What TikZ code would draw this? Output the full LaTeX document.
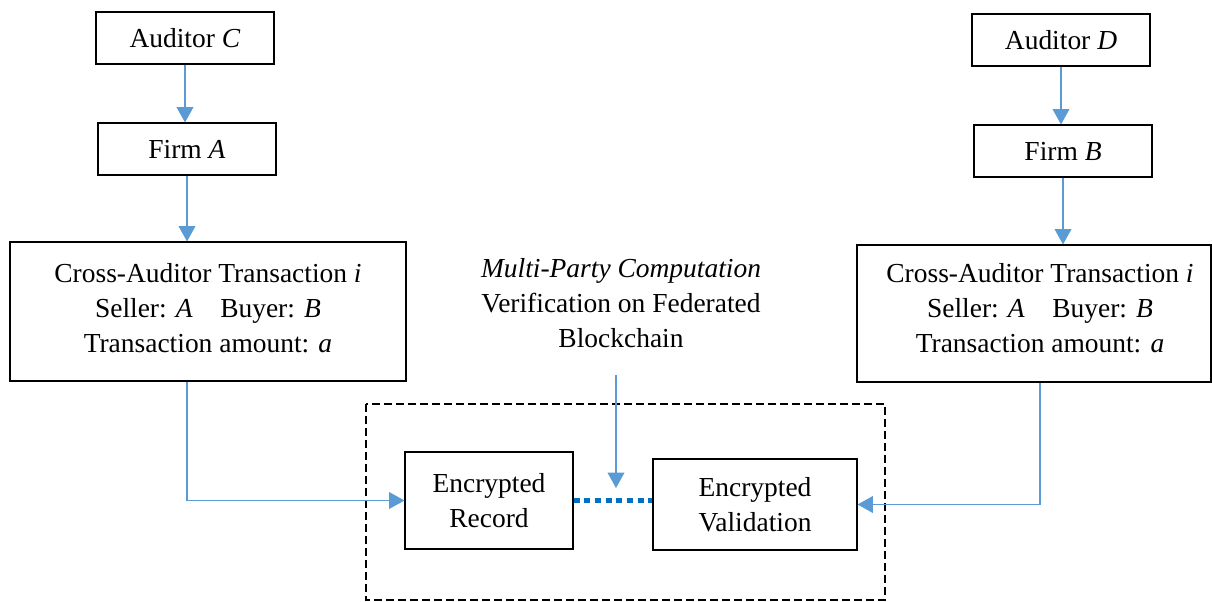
\documentclass[tikz,border=0pt]{standalone}
\usepackage{fontspec}
\setmainfont{Liberation Serif}
\usetikzlibrary{arrows.meta,calc}
\definecolor{linkblue}{RGB}{91,155,213}
\definecolor{dotblue}{RGB}{0,112,192}
\tikzset{
  box/.style={draw=black, line width=0.8pt, rectangle, inner sep=0pt, align=center,
              font=\fontsize{20.6}{26.25}\selectfont},
  arr/.style={draw=linkblue, line width=1.1pt,
              -{Triangle[length=11.5pt,width=12.5pt]}},
  link/.style={draw=dotblue, line width=3.4pt, dash pattern=on 4.6pt off 3.4pt},
  frame/.style={draw=black, line width=1.6pt, dash pattern=on 6pt off 3pt},
  caption/.style={align=center, inner sep=0pt, font=\fontsize{20.6}{26.25}\selectfont}
}
\begin{document}
\begin{tikzpicture}[x=0.75pt,y=-0.75pt]
  \useasboundingbox (0,0) rectangle (1212,602);

  % left column
  \node[box, minimum width=133.5pt, minimum height=39pt] (audC) at (185,38) {Auditor \textit{C}};
  \node[box, minimum width=133.5pt, minimum height=39pt] (firmA) at (187,149) {Firm \textit{A}};
  \node[box, minimum width=297pt, minimum height=104.25pt] (txL) at (208,311.5) {};
  \node[caption] (txLtext) at (208,308)
    {Cross-Auditor Transaction \textit{i}\\Seller: \textit{A}\quad Buyer: \textit{B}\\Transaction amount: \textit{a}};

  % right column
  \node[box, minimum width=133.5pt, minimum height=39pt] (audD) at (1061,40) {Auditor \textit{D}};
  \node[box, minimum width=133.5pt, minimum height=39pt] (firmB) at (1063,151) {Firm \textit{B}};
  \node[box, minimum width=265.5pt, minimum height=102.75pt] (txR) at (1034,313.5) {};
  \node[caption] (txRtext) at (1040,308)
    {Cross-Auditor Transaction \textit{i}\\Seller: \textit{A}\quad Buyer: \textit{B}\\Transaction amount: \textit{a}};

  % federated verification area
  \draw[frame] (366,404) rectangle (885,600);
  \node[box, minimum width=126pt, minimum height=72.75pt] (rec) at (489,500.5) {Encrypted\\Record};
  \node[box, minimum width=153pt, minimum height=68.25pt] (val) at (755,504.5) {Encrypted\\Validation};

  \node[caption] (mpc) at (621,303)
    {\textit{Multi-Party Computation}\\Verification on Federated\\Blockchain};
  \coordinate (mpcTop) at (616,375);
  \coordinate (mpcTip) at (616,488);

  % connectors
  \draw[arr] (audC) -- (audC |- firmA.north);
  \draw[arr] (firmA) -- (firmA |- txL.north);
  \draw[arr] (audD) -- (audD |- firmB.north);
  \draw[arr] (firmB) -- (firmB |- txR.north);
  \draw[arr] (txL.south -| firmA) |- (rec.west);
  \draw[arr] ([xshift=4.5pt]txR.south) |- (val.east);
  \draw[arr] (mpcTop) -- (mpcTip);
  \draw[link] (rec.east) -- (rec.east -| val.west);
\end{tikzpicture}
\end{document}
